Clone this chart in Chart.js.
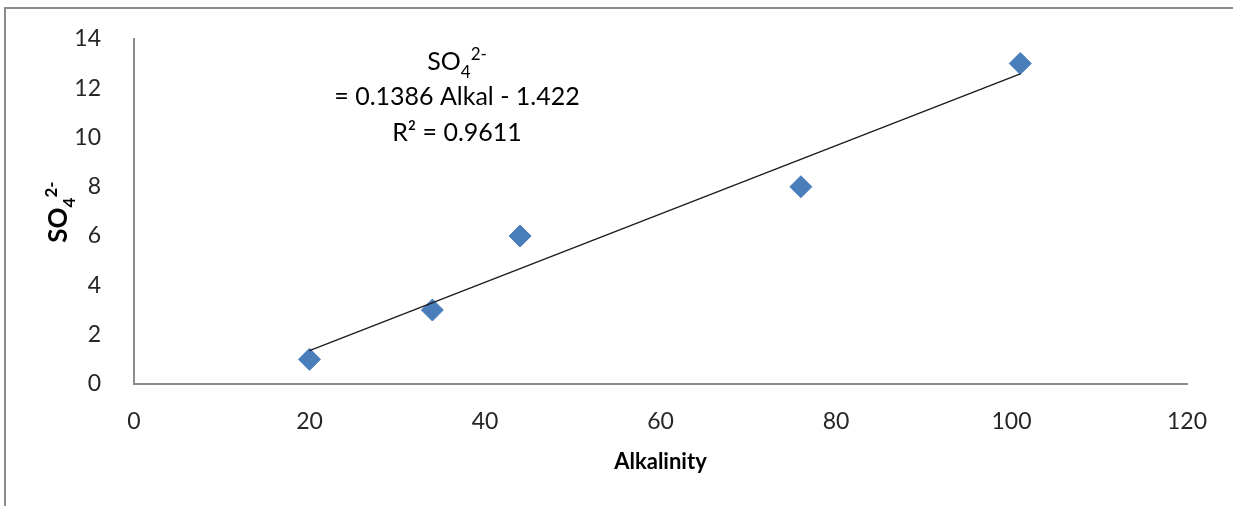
<!DOCTYPE html>
<html>
<head>
<meta charset="utf-8">
<script src="https://cdn.jsdelivr.net/npm/chart.js@4.4.1/dist/chart.umd.min.js"></script>
<style>
    html, body { margin: 0; padding: 0; background: #fff; }
    #wrap { position: relative; width: 1233px; height: 506px; }
</style>
</head>
<body>
<div id="wrap"><canvas id="myChart" width="1233" height="506"></canvas></div>
<script>
const alkalinity = [20, 34, 44, 76, 101]
const sulfate = [1, 3, 6, 8, 13]
const xRange = [0, 120]
const yRange = [0, 14]
const xStep = 20
const yStep = 2
const equationLines = ["= 0.1386 Alkal - 1.422", "R\u00b2 = 0.9611"]

const FONT = "Lato, 'Open Sans', sans-serif"

// least squares fit for the trendline
const n = alkalinity.length
const meanX = alkalinity.reduce((a, b) => a + b, 0) / n
const meanY = sulfate.reduce((a, b) => a + b, 0) / n
let sxy = 0, sxx = 0
alkalinity.forEach((x, i) => {
    sxy += (x - meanX) * (sulfate[i] - meanY)
    sxx += (x - meanX) * (x - meanX)
})
const slope = sxy / sxx
const intercept = meanY - slope * meanX
const xMin = Math.min(...alkalinity)
const xMax = Math.max(...alkalinity)
const trend = [
    { x: xMin, y: slope * xMin + intercept },
    { x: xMax, y: slope * xMax + intercept }
]

const points = alkalinity.map((x, i) => ({ x: x, y: sulfate[i] }))

// SO4 with subscript 4 and superscript 2-
function formulaWidth(ctx, weight, size) {
    ctx.font = `${weight} ${size}px ${FONT}`
    let w = ctx.measureText("SO").width
    ctx.font = `${weight} ${Math.round(size * 0.66)}px ${FONT}`
    w += ctx.measureText("4").width + ctx.measureText("2-").width
    return w
}

function drawFormula(ctx, x, y, weight, size) {
    ctx.textAlign = "left"
    ctx.textBaseline = "alphabetic"
    ctx.font = `${weight} ${size}px ${FONT}`
    ctx.fillText("SO", x, y)
    x += ctx.measureText("SO").width
    ctx.font = `${weight} ${Math.round(size * 0.66)}px ${FONT}`
    ctx.fillText("4", x, y + size * 0.3)
    x += ctx.measureText("4").width
    ctx.fillText("2-", x, y - size * 0.4)
}

const extras = {
    id: "extras",
    afterDraw(chart) {
        const ctx = chart.ctx
        ctx.save()

        // outer frame
        ctx.strokeStyle = "#8c8c8c"
        ctx.lineWidth = 2
        ctx.strokeRect(5, 8, 1400, 700)

        // y axis title
        ctx.fillStyle = "#000"
        ctx.save()
        ctx.translate(67, 212)
        ctx.rotate(-Math.PI / 2)
        const tw = formulaWidth(ctx, "bold", 26)
        drawFormula(ctx, -tw / 2, 0, "bold", 26)
        ctx.restore()

        // trendline equation
        const cx = 457
        const fw = formulaWidth(ctx, "normal", 25)
        drawFormula(ctx, cx - fw / 2, 70, "normal", 25)
        ctx.font = `normal 25px ${FONT}`
        ctx.textAlign = "center"
        ctx.fillText(equationLines[0], cx, 105)
        ctx.fillText(equationLines[1], cx, 141)

        ctx.restore()
    }
}

const data = {
    datasets: [
        {
            label: "Trend",
            data: trend,
            showLine: true,
            borderColor: "#1a1a1a",
            borderWidth: 1.3,
            pointRadius: 0,
            order: 0
        },
        {
            label: "SO4",
            data: points,
            pointStyle: "rectRot",
            pointRadius: 11,
            pointHoverRadius: 11,
            backgroundColor: "#4a7ebb",
            borderColor: "#4a7ebb",
            borderWidth: 1,
            order: 1
        }
    ]
}

const config = {
    type: "scatter",
    data: data,
    options: {
        responsive: false,
        animation: false,
        devicePixelRatio: 1,
        layout: { padding: { top: 38, right: 46, left: 0, bottom: 0 } },
        plugins: {
            legend: { display: false },
            tooltip: { enabled: false }
        },
        scales: {
            x: {
                type: "linear",
                min: xRange[0],
                max: xRange[1],
                grid: { display: false },
                border: { display: true, color: "#8c8c8c", width: 2 },
                ticks: {
                    stepSize: xStep,
                    color: "#262626",
                    padding: 16,
                    font: { family: FONT, size: 23 }
                },
                title: {
                    display: true,
                    text: "Alkalinity",
                    color: "#000",
                    font: { family: FONT, size: 22, weight: "bold" },
                    padding: { top: 0, bottom: 31 }
                },
                afterFit: scale => { scale.height = 122 }
            },
            y: {
                min: yRange[0],
                max: yRange[1],
                grid: { display: false },
                border: { display: true, color: "#8c8c8c", width: 2 },
                ticks: {
                    stepSize: yStep,
                    color: "#262626",
                    padding: 25,
                    font: { family: FONT, size: 23 }
                },
                afterFit: scale => { scale.width = 134 }
            }
        }
    },
    plugins: [extras]
}

const myChart = new Chart(document.getElementById("myChart"), config)
</script>
</body>
</html>
